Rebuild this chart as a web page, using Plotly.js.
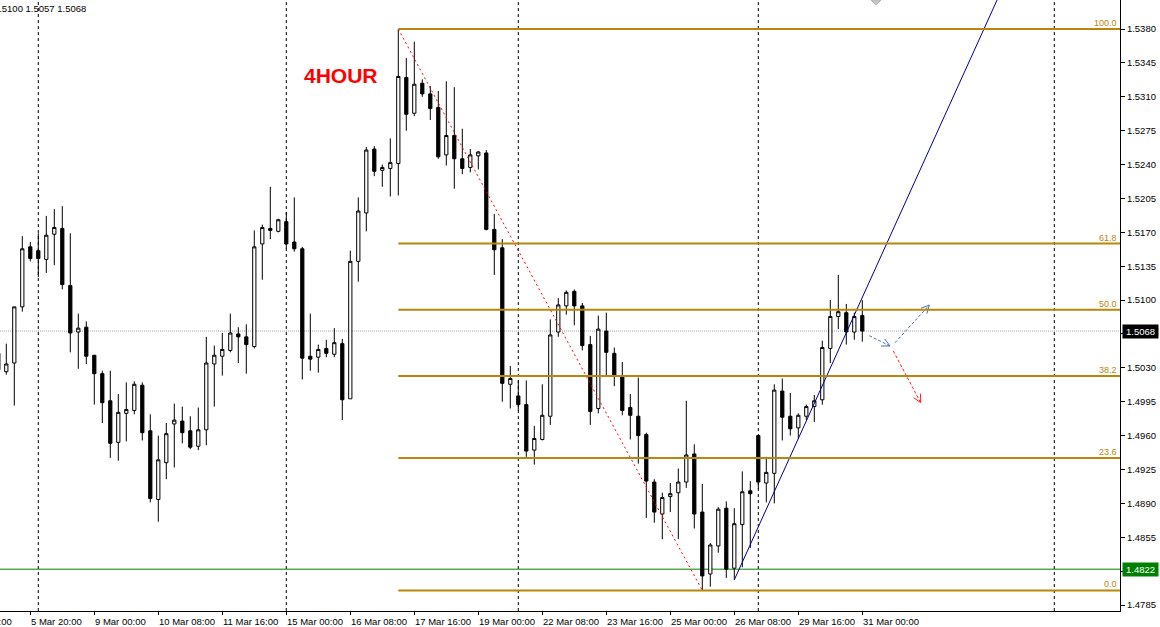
<!DOCTYPE html>
<html><head><meta charset="utf-8">
<script src="https://cdn.plot.ly/plotly-3.0.1.min.js"></script>
<style>html,body{margin:0;padding:0;background:#fff;overflow:hidden}#chart{width:1160px;height:627px}</style>
</head><body><div id="chart"></div><script>
// ---- data (EURUSD H4) ----
const openPrice = [1.5028,1.5026,1.5035,1.5093,1.5155,1.5151,1.5142,1.5168,1.5174,1.5115,1.5067,1.5072,1.5043,1.5024,1.4996,1.4953,1.4983,1.4986,1.5012,1.4965,1.4894,1.4932,1.4972,1.4975,1.4965,1.4949,1.4966,1.5034,1.5042,1.5048,1.5065,1.5062,1.5052,1.5158,1.5174,1.5171,1.5181,1.5160,1.5153,1.5042,1.5041,1.5050,1.5044,1.5055,1.4998,1.5140,1.5190,1.5256,1.5234,1.5236,1.5241,1.5330,1.5293,1.5324,1.5313,1.5299,1.5250,1.5270,1.5246,1.5237,1.5249,1.5252,1.5173,1.5154,1.5013,1.5001,1.4992,1.4945,1.4956,1.4980,1.5067,1.5094,1.5109,1.5094,1.5054,1.4988,1.5068,1.5045,1.5021,1.4989,1.4980,1.4961,1.4912,1.4879,1.4897,1.4901,1.4912,1.4941,1.4881,1.4817,1.4846,1.4885,1.4823,1.4868,1.4903,1.4960,1.4911,1.4921,1.5006,1.4980,1.4968,1.4980,1.4990,1.4997,1.5050,1.5083,1.5087,1.5067,1.5084];
const highPrice = [1.5050,1.5055,1.5093,1.5166,1.5160,1.5169,1.5187,1.5194,1.5197,1.5169,1.5086,1.5078,1.5043,1.5027,1.5027,1.5003,1.5015,1.5016,1.5015,1.4982,1.4960,1.4973,1.4993,1.4990,1.4980,1.4989,1.5062,1.5053,1.5066,1.5086,1.5072,1.5075,1.5172,1.5178,1.5217,1.5184,1.5191,1.5206,1.5155,1.5086,1.5054,1.5059,1.5071,1.5060,1.5151,1.5206,1.5258,1.5259,1.5240,1.5267,1.5380,1.5350,1.5367,1.5328,1.5321,1.5316,1.5326,1.5320,1.5277,1.5256,1.5254,1.5255,1.5189,1.5163,1.5032,1.5017,1.5017,1.4970,1.5013,1.5080,1.5102,1.5110,1.5111,1.5097,1.5063,1.5084,1.5087,1.5051,1.5036,1.5003,1.5020,1.4963,1.4915,1.4901,1.4911,1.4926,1.4996,1.4951,1.4910,1.4849,1.4886,1.4892,1.4885,1.4923,1.4913,1.4960,1.4938,1.5013,1.5019,1.5004,1.4983,1.4992,1.5002,1.5058,1.5100,1.5126,1.5096,1.5087,1.5100];
const lowPrice = [1.5020,1.5023,1.4991,1.5088,1.5140,1.5124,1.5128,1.5136,1.5111,1.5046,1.5029,1.5034,1.4992,1.4973,1.4937,1.4934,1.4954,1.4982,1.4955,1.4891,1.4871,1.4915,1.4927,1.4952,1.4946,1.4945,1.4950,1.4990,1.5022,1.5046,1.5035,1.5024,1.5050,1.5121,1.5163,1.5170,1.5153,1.5150,1.5018,1.5027,1.5025,1.5041,1.5041,1.4976,1.4998,1.5119,1.5171,1.5228,1.5217,1.5207,1.5208,1.5275,1.5290,1.5310,1.5286,1.5246,1.5239,1.5215,1.5230,1.5232,1.5235,1.5172,1.5126,1.4995,1.4988,1.4986,1.4938,1.4930,1.4955,1.4971,1.5062,1.5085,1.5074,1.5048,1.4971,1.4983,1.5021,1.5011,1.4981,1.4956,1.4931,1.4875,1.4870,1.4853,1.4881,1.4853,1.4906,1.4864,1.4800,1.4804,1.4839,1.4813,1.4811,1.4824,1.4844,1.4905,1.4891,1.4890,1.4955,1.4960,1.4957,1.4976,1.4974,1.4992,1.5035,1.5070,1.5054,1.5059,1.5057];
const closePrice = [1.5045,1.5034,1.5093,1.5153,1.5143,1.5143,1.5167,1.5175,1.5116,1.5066,1.5071,1.5042,1.5024,1.4994,1.4952,1.4984,1.4987,1.5013,1.4963,1.4895,1.4935,1.4962,1.4976,1.4963,1.4948,1.4966,1.5035,1.5043,1.5049,1.5066,1.5062,1.5054,1.5155,1.5175,1.5172,1.5183,1.5158,1.5153,1.5040,1.5039,1.5049,1.5045,1.5056,1.4997,1.5140,1.5192,1.5255,1.5233,1.5237,1.5242,1.5331,1.5292,1.5323,1.5313,1.5298,1.5248,1.5270,1.5246,1.5236,1.5250,1.5253,1.5173,1.5152,1.5014,1.5019,1.4992,1.4944,1.4957,1.4981,1.5064,1.5095,1.5108,1.5094,1.5053,1.4985,1.5070,1.5046,1.5021,1.4986,1.4981,1.4960,1.4913,1.4881,1.4896,1.4900,1.4912,1.4940,1.4879,1.4815,1.4847,1.4884,1.4822,1.4869,1.4902,1.4900,1.4912,1.4922,1.5007,1.4979,1.4967,1.4981,1.4990,1.4996,1.5051,1.5083,1.5088,1.5067,1.5083,1.5068];
const firstBar = -1; // bar index of the first candle (partly off screen)
const barIndex = openPrice.map((_, k) => firstBar + k);

const timeTickBars = [3,11,19,27,35,43,51,59,67,75,83,91,99,107];
const timeTickLabels = ['5 Mar 20:00','9 Mar 00:00','10 Mar 08:00','11 Mar 16:00','15 Mar 00:00','16 Mar 08:00','17 Mar 16:00','19 Mar 00:00','22 Mar 08:00','23 Mar 16:00','25 Mar 00:00','26 Mar 08:00','29 Mar 16:00','31 Mar 00:00'];
const priceTicks = [1.5380,1.5345,1.5310,1.5275,1.5240,1.5205,1.5170,1.5135,1.5100,1.5065,1.5030,1.4995,1.4960,1.4925,1.4890,1.4855,1.4820,1.4785];
const separatorBars = [4,35,64,94,131];

const fibLevels = [100.0, 61.8, 50.0, 38.2, 23.6, 0.0];
const fibHigh = 1.5380, fibLow = 1.4800;
const fibHighBar = 49, fibLowBar = 87;
const trendBars = [91, 125];
const trendPrices = [1.4811, 1.5431];
const lastPrice = 1.5068;
const greenLevel = 1.4822;
const headerText = 'EURUSD,H4  1.5084 1.5100 1.5057 1.5068';

const arrows = [
  {from:[107.875,1.50632], to:[110.46,1.50526], color:'#4a6fa8'},
  {from:[111.09,1.50560], to:[115.375,1.50949], color:'#4a6fa8'},
  {from:[110.875,1.50474], to:[114.3,1.49940], color:'#ff2020'}
];

// ---- layout geometry ----
const W = 1160, H = 627;
const M = {l:0, r:40, t:0, b:16};
const xRange = [-0.7875, 139.2125];
const yRange = [1.47788, 1.54100];
const plotW = W - M.l - M.r, plotH = H - M.t - M.b;
const pxX = plotW / (xRange[1] - xRange[0]);
const pxY = plotH / (yRange[1] - yRange[0]);
const FONT = 'Liberation Sans, Arial, sans-serif';
const GOLD = '#B8860B';

const traces = [];
traces.push({
  type:'candlestick', x:barIndex, open:openPrice, high:highPrice, low:lowPrice, close:closePrice,
  increasing:{line:{color:'#000', width:1}, fillcolor:'#ffffff'},
  decreasing:{line:{color:'#000', width:1}, fillcolor:'#000000'},
  whiskerwidth:0, hoverinfo:'none', showlegend:false
});
// fibo diagonal
traces.push({type:'scatter', mode:'lines', x:[fibHighBar, fibLowBar], y:[fibHigh, fibLow],
  line:{color:'#ff0000', width:1, dash:'2px,3px'}, hoverinfo:'none', showlegend:false});
// trend line
traces.push({type:'scatter', mode:'lines', x:trendBars, y:trendPrices,
  line:{color:'#00008B', width:1}, hoverinfo:'none', showlegend:false});
// arrows
arrows.forEach(a => {
  traces.push({type:'scatter', mode:'lines', x:[a.from[0], a.to[0]], y:[a.from[1], a.to[1]],
    line:{color:a.color, width:1, dash:'3px,2px'}, hoverinfo:'none', showlegend:false});
  const dx = (a.to[0]-a.from[0])*pxX, dy = (a.to[1]-a.from[1])*pxY;
  const len = Math.hypot(dx, dy), ux = dx/len, uy = dy/len, nx = -uy, ny = ux;
  const L = 8, Wd = 4;
  const p1 = [a.to[0] + (-L*ux + Wd*nx)/pxX, a.to[1] + (-L*uy + Wd*ny)/pxY];
  const p2 = [a.to[0] + (-L*ux - Wd*nx)/pxX, a.to[1] + (-L*uy - Wd*ny)/pxY];
  traces.push({type:'scatter', mode:'lines', x:[p1[0], a.to[0], p2[0]], y:[p1[1], a.to[1], p2[1]],
    line:{color:a.color, width:1}, hoverinfo:'none', showlegend:false});
});

const shapes = [];
separatorBars.forEach(b => shapes.push({type:'line', xref:'x', yref:'paper', x0:b, x1:b, y0:0, y1:1,
  line:{color:'#000', width:1, dash:'3px,3px'}, layer:'below'}));
shapes.push({type:'line', xref:'paper', yref:'y', x0:0, x1:1, y0:lastPrice, y1:lastPrice,
  line:{color:'#a0a0a0', width:1, dash:'1px,1px'}, layer:'below'});
shapes.push({type:'line', xref:'paper', yref:'y', x0:0, x1:1, y0:greenLevel, y1:greenLevel,
  line:{color:'#008000', width:1}, layer:'below'});
fibLevels.forEach(l => {
  const p = fibLow + (fibHigh - fibLow) * l / 100;
  shapes.push({type:'line', xref:'x', yref:'y', x0:fibHighBar, x1:xRange[1], y0:p, y1:p,
    line:{color:GOLD, width:2}, layer:'above'});
});
// small grey object tip showing at the top edge
const px2paper = (x, y) => [x / plotW, 1 - y / plotH];
(function(){
  const a = px2paper(871, 0), b = px2paper(876, 5), c = px2paper(881, 0);
  shapes.push({type:'path', xref:'paper', yref:'paper',
    path:`M ${a[0]} ${a[1]} L ${b[0]} ${b[1]} L ${c[0]} ${c[1]} Z`,
    fillcolor:'#c8c8c8', line:{color:'#b0b0b0', width:1}, layer:'above'});
})();

const annotations = [];
timeTickBars.forEach((b, k) => annotations.push({xref:'x', yref:'paper', x:b, y:0, xanchor:'left', yanchor:'top',
  yshift:-3, xshift:-1, text:timeTickLabels[k], showarrow:false, font:{family:FONT, size:9.5, color:'#000'}}));
annotations.push({xref:'paper', yref:'paper', x:0, y:0, xanchor:'right', yanchor:'top', xshift:14, yshift:-3,
  text:'4 Mar 12:00', showarrow:false, font:{family:FONT, size:9.5, color:'#000'}});
fibLevels.forEach(l => {
  const p = fibLow + (fibHigh - fibLow) * l / 100;
  annotations.push({xref:'paper', yref:'y', x:1, y:p, xanchor:'right', yanchor:'bottom', xshift:-1, yshift:-1,
    text:l.toFixed(1), showarrow:false, font:{family:FONT, size:9, color:GOLD}});
});
annotations.push({xref:'paper', yref:'y', x:1, y:lastPrice, xanchor:'left', yanchor:'middle', xshift:2,
  text:lastPrice.toFixed(4), showarrow:false, bgcolor:'#000', borderpad:1, width:33,
  font:{family:FONT, size:9.5, color:'#fff'}});
annotations.push({xref:'paper', yref:'y', x:1, y:greenLevel, xanchor:'left', yanchor:'middle', xshift:2,
  text:greenLevel.toFixed(4), showarrow:false, bgcolor:'#008000', borderpad:1, width:33,
  font:{family:FONT, size:9.5, color:'#fff'}});
annotations.push({xref:'paper', yref:'paper', x:0, y:1, xanchor:'right', yanchor:'top', xshift:88, yshift:-1,
  text:headerText, showarrow:false, font:{family:FONT, size:9.5, color:'#000'}});
annotations.push({xref:'paper', yref:'paper', x:341/plotW, y:1-75.5/plotH, xanchor:'center', yanchor:'middle',
  text:'<b>4HOUR</b>', showarrow:false, font:{family:FONT, size:21, color:'#ff0000'}});

const layout = {
  width:W, height:H, margin:M, paper_bgcolor:'#fff', plot_bgcolor:'#fff', showlegend:false,
  boxgap:0.42,
  xaxis:{range:xRange, showgrid:false, zeroline:false, showline:true, linecolor:'#000', linewidth:1,
    ticks:'outside', ticklen:3, tickcolor:'#000', tickvals:timeTickBars, showticklabels:false,
    rangeslider:{visible:false}, fixedrange:true},
  yaxis:{range:yRange, side:'right', showgrid:false, zeroline:false, showline:true, linecolor:'#000', linewidth:1,
    ticks:'outside', ticklen:4, tickcolor:'#000', tickvals:priceTicks, ticktext:priceTicks.map(v=>v.toFixed(4)),
    tickfont:{family:FONT, size:9.5, color:'#000'}, fixedrange:true},
  shapes, annotations
};
Plotly.newPlot('chart', traces, layout, {displayModeBar:false, staticPlot:true});
</script></body></html>
